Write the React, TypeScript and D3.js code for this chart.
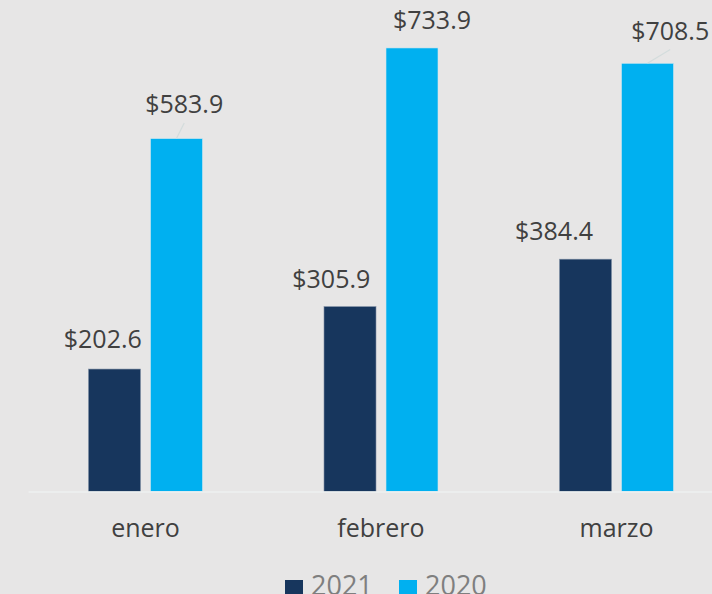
import React from "react";
import * as d3 from "d3";

const categories = ["enero", "febrero", "marzo"];
const seriesNames = ["2021", "2020"];
const values2021 = [202.6, 305.9, 384.4];
const values2020 = [583.9, 733.9, 708.5];
const seriesColors = ["#17365d", "#00b0f0"];

// label nudges (dx from bar center, dy = baseline distance above bar top)
const labelNudge2021 = [[-11.7, 20.7], [-18.7, 19], [-31.5, 19.3]];
const labelNudge2020 = [[7.7, 25.6], [20, 18.7], [22.7, 23.7]];
const leaderFlags2020 = [true, false, true];

const W = 712;
const H = 594;
const FONT = "'Open Sans', 'Noto Sans', sans-serif";

export default function App() {
  const x0 = d3.scaleBand<string>().domain(categories).range([27.75, 734.25]).paddingInner(0).paddingOuter(0);
  const step = x0.bandwidth();
  const x1 = d3
    .scaleBand<string>()
    .domain(seriesNames)
    .range([step / 2 - 57, step / 2 + 57])
    .paddingInner(10 / 62)
    .paddingOuter(0);
  const y = d3.scaleLinear().domain([0, 800]).range([491.5, 8]);
  const fmt = (v: number) => "$" + d3.format(".1f")(v);

  const seriesVals = [values2021, values2020];
  const nudges = [labelNudge2021, labelNudge2020];

  return (
    <svg
      width={W}
      height={H}
      style={{ position: "absolute", left: 0, top: 0, display: "block" }}
      fontFamily={FONT}
    >
      <rect x={0} y={0} width={W} height={H} fill="#e7e6e6" />
      {categories.map((c, ci) =>
        seriesNames.map((s, si) => {
          const v = seriesVals[si][ci];
          const bx = (x0(c) as number) + (x1(s) as number);
          const bw = x1.bandwidth();
          const top = y(v);
          return (
            <rect
              key={c + s}
              x={bx}
              y={top}
              width={bw}
              height={y(0) - top}
              fill={seriesColors[si]}
              stroke={si === 0 ? "#7f8ea3" : "#cfe6ef"}
              strokeWidth={0.6}
            />
          );
        })
      )}
      <line x1={28.5} x2={W} y1={492} y2={492} stroke="#eef0f0" strokeWidth={1.5} />
      {categories.map((c, ci) =>
        seriesNames.map((s, si) => {
          const v = seriesVals[si][ci];
          const cx = (x0(c) as number) + (x1(s) as number) + x1.bandwidth() / 2;
          const top = y(v);
          const [dx, dy] = nudges[si][ci];
          const lx = cx + dx;
          const ly = top - dy;
          const showLeader = si === 1 && leaderFlags2020[ci];
          return (
            <g key={"l" + c + s}>
              {showLeader && (
                <line
                  x1={cx}
                  y1={top}
                  x2={lx}
                  y2={ly + 10}
                  stroke="#d3dcdc"
                  strokeWidth={1.2}
                />
              )}
              <text x={lx} y={ly} textAnchor="middle" fontSize={25} fill="#404040">
                {fmt(v)}
              </text>
            </g>
          );
        })
      )}
      {categories.map((c) => (
        <text
          key={"c" + c}
          x={(x0(c) as number) + step / 2}
          y={537}
          textAnchor="middle"
          fontSize={25}
          fill="#404040"
        >
          {c}
        </text>
      ))}
      {seriesNames.map((s, si) => {
        const lx = si === 0 ? 285 : 399;
        return (
          <g key={"lg" + s}>
            <rect x={lx} y={580} width={18} height={18} fill={seriesColors[si]} />
            <text x={lx + 26} y={594.5} fontSize={27} fill="#7f7f7f">
              {s}
            </text>
          </g>
        );
      })}
    </svg>
  );
}
